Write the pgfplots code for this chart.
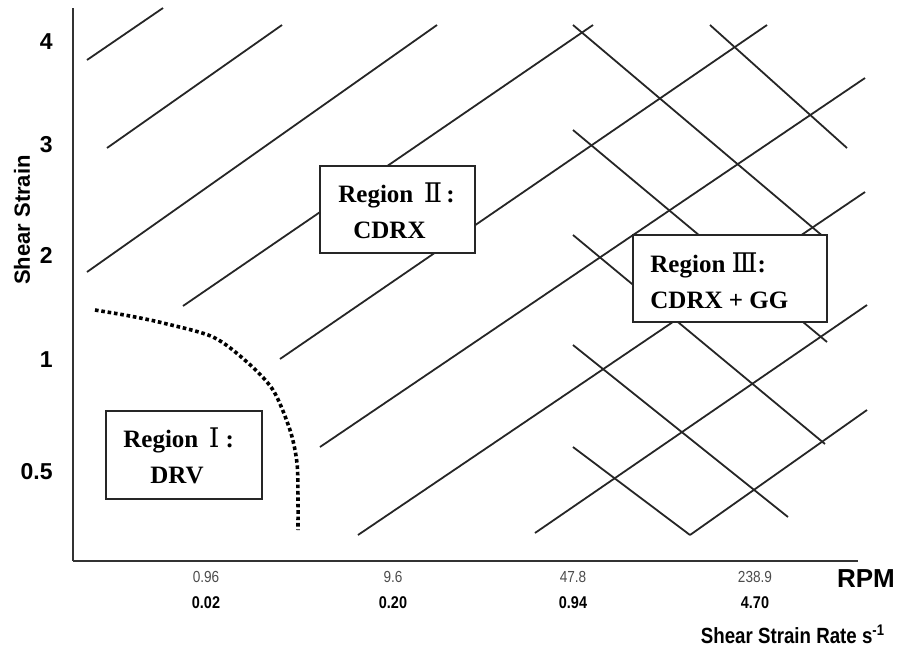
\documentclass[border=0pt]{standalone}
\usepackage{pgfplots}
\pgfplotsset{compat=1.18}
\usepackage{fontspec}
\setmainfont{Liberation Serif}
\setsansfont{Liberation Sans}
\newfontfamily\romfont{DejaVu Serif}
\newfontfamily\narrowsans[FakeStretch=0.85]{Liberation Sans}
\newcommand{\rowA}[1]{{\narrowsans\fontsize{8}{9}\selectfont\color{black!70}#1}}
\newcommand{\rowB}[1]{{\narrowsans\bfseries\fontsize{8.5}{9}\selectfont #1}}
\newcommand{\boxfont}{\bfseries\fontsize{12.5}{14}\selectfont}
\newcommand{\rn}[1]{{\romfont\mdseries\fontsize{13.5}{14}\selectfont #1}}
\begin{document}
\begin{tikzpicture}
\begin{axis}[
  x=0.5pt, y=0.5pt,
  xmin=73, xmax=858, ymin=84, ymax=637,
  axis x line=bottom, axis y line=left,
  axis line style={-, line width=0.9pt, black!80},
  clip=false,
  major tick length=0pt,
  xtick={206,393,573,755},
  xticklabels={{\rowA{0.96}\\[1pt]\rowB{0.02}},{\rowA{9.6}\\[1pt]\rowB{0.20}},{\rowA{47.8}\\[1pt]\rowB{0.94}},{\rowA{238.9}\\[1pt]\rowB{4.70}}},
  xticklabel style={align=center, inner sep=0pt, anchor=north, yshift=-5pt},
  ytick={173,285,390,500,603},
  yticklabels={0.5,1,2,3,4},
  yticklabel style={font=\sffamily\bfseries\fontsize{11.5}{12}\selectfont, inner sep=0pt, anchor=east, xshift=-10pt},
]
% rising lines
\addplot[black!85, line width=0.9pt] coordinates {(87,585) (163,637)};
\addplot[black!85, line width=0.9pt] coordinates {(107,497) (282,620)};
\addplot[black!85, line width=0.9pt] coordinates {(87,373) (437,620)};
\addplot[black!85, line width=0.9pt] coordinates {(183,339) (593,620)};
\addplot[black!85, line width=0.9pt] coordinates {(280,286) (767,620)};
\addplot[black!85, line width=0.9pt] coordinates {(320,198) (865,567)};
\addplot[black!85, line width=0.9pt] coordinates {(358,110) (865,453)};
\addplot[black!85, line width=0.9pt] coordinates {(535,112) (867,340)};
\addplot[black!85, line width=0.9pt] coordinates {(690,110) (867,235)};
% falling lines
\addplot[black!85, line width=0.9pt] coordinates {(573,620) (825,407)};
\addplot[black!85, line width=0.9pt] coordinates {(710,620) (847,497)};
\addplot[black!85, line width=0.9pt] coordinates {(573,515) (827,303)};
\addplot[black!85, line width=0.9pt] coordinates {(573,410) (825,201)};
\addplot[black!85, line width=0.9pt] coordinates {(573,300) (788,128)};
\addplot[black!85, line width=0.9pt] coordinates {(573,198) (690,110)};
% dotted boundary
\addplot[black, line width=1.8pt, dash pattern=on 1.8pt off 1.4pt, smooth] coordinates {
 (95,335) (130,329) (163,322) (213,308) (247,283) (273,255) (290,215) (297,182) (298,145) (298,115)};
% boxes
\draw[line width=1pt, fill=white, draw=black!85] (axis cs:106,146) rectangle (axis cs:262,234);
\draw[line width=1pt, fill=white, draw=black!85] (axis cs:320,392) rectangle (axis cs:475,479);
\draw[line width=1pt, fill=white, draw=black!85] (axis cs:633,323) rectangle (axis cs:827,410);
\node[anchor=base west, font=\boxfont, inner sep=0pt] at (axis cs:123,198) {Region \,\rn{Ⅰ} :};
\node[anchor=base west, font=\boxfont, inner sep=0pt] at (axis cs:150,162) {DRV};
\node[anchor=base west, font=\boxfont, inner sep=0pt] at (axis cs:338,443) {Region \,\rn{Ⅱ}\,:};
\node[anchor=base west, font=\boxfont, inner sep=0pt] at (axis cs:353,407) {CDRX};
\node[anchor=base west, font=\boxfont, inner sep=0pt] at (axis cs:650,373) {Region \rn{Ⅲ}:};
\node[anchor=base west, font=\boxfont, inner sep=0pt] at (axis cs:650,337) {CDRX + GG};
% axis titles
\node[rotate=90, font=\sffamily\bfseries\fontsize{11}{12}\selectfont, inner sep=0pt] at (axis cs:22,425) {Shear Strain};
\node[font=\sffamily\bfseries\fontsize{13}{14}\selectfont, inner sep=0pt] at (axis cs:866,66) {RPM};
\node[font=\narrowsans\bfseries\fontsize{11}{12}\selectfont, inner sep=0pt] at (axis cs:793,11) {Shear Strain Rate s\textsuperscript{-1}};
\coordinate (bbSW) at (axis cs:0,0);
\coordinate (bbNE) at (axis cs:901,645);
\end{axis}
\pgfresetboundingbox
\path (bbSW) rectangle (bbNE);
\end{tikzpicture}
\end{document}
